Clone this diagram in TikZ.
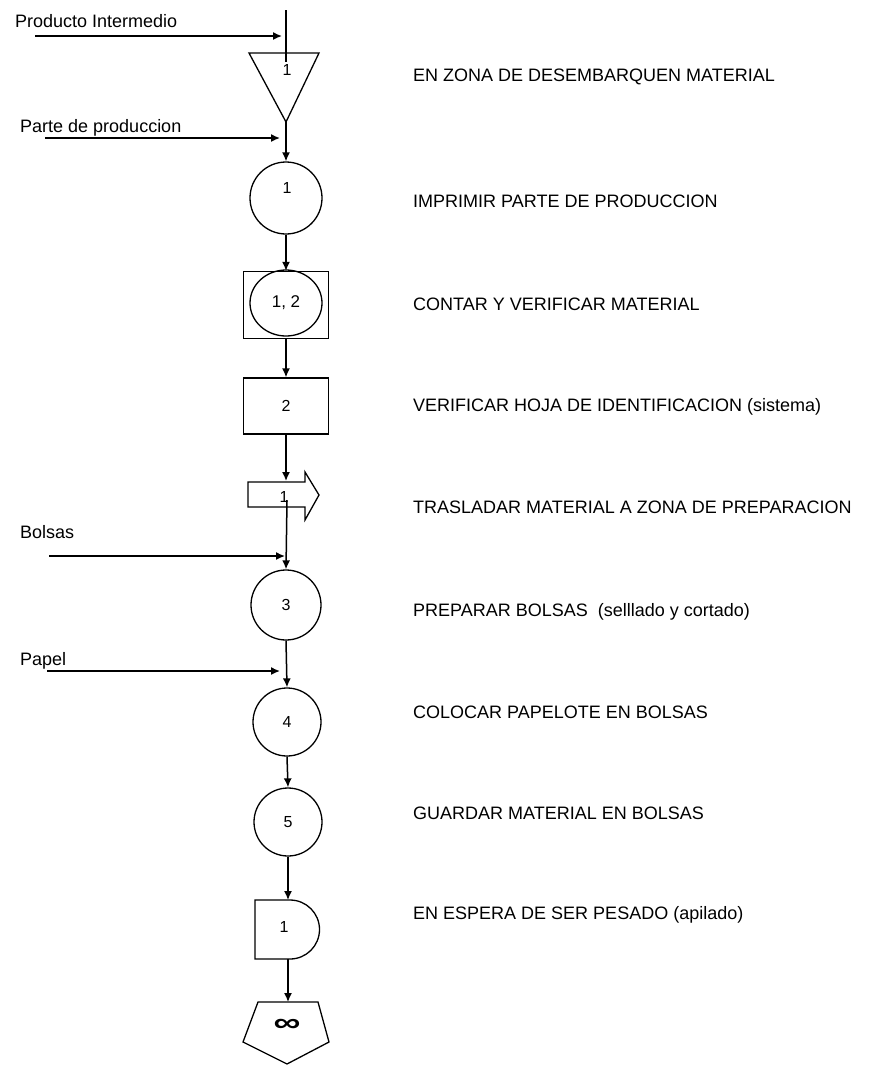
\documentclass[tikz,border=0pt]{standalone}
\usepackage{fontspec}
\setmainfont{Liberation Sans}
\usetikzlibrary{arrows.meta,shapes.geometric}
\begin{document}
\begin{tikzpicture}[x=1pt,y=-1pt,
  conn/.style={line width=1.5pt, -{Latex[length=9pt,width=8pt]}},
  shapeline/.style={line width=1.3pt},
  opcircle/.style={circle, draw, shapeline, minimum size=#1, inner sep=0pt},
  opcircle/.default=72pt,
  opbox/.style={rectangle, draw, shapeline, minimum width=85pt, inner sep=0pt},
  num/.style={font=\fontsize{16}{16}\selectfont, inner sep=0pt},
  desc/.style={anchor=west, inner sep=0pt, text height=13pt, text depth=0pt,
               font=\fontsize{18}{18}\selectfont},
  feedlabel/.style={desc}]
  \fill[white] (0,0) rectangle (881,1066);
  \useasboundingbox (0,0) rectangle (881,1066);

  % --- storage: incoming intermediate product ---
  \coordinate (top) at (286,10);
  \coordinate (tri-in) at (286,62);
  \draw[shapeline] (top) -- (tri-in);
  \node[feedlabel] (lbl-prod) at (15,21) {Producto Intermedio};
  \coordinate (prod-start) at (35,36);
  \coordinate (prod-end) at (282,36);
  \draw[conn] (prod-start) -- (prod-end);

  \coordinate (tl) at (249,53);
  \coordinate (tr) at (319,53);
  \coordinate (tb) at (286,122);
  \draw[shapeline] (tl) -- (tr) -- (tb) -- cycle;
  \node[num] (n-tri) at (287,70) {1};
  \node[desc] (d1) at (413,75) {EN ZONA DE DESEMBARQUEN MATERIAL};

  % --- production report ---
  \node[feedlabel] (lbl-parte) at (20,126) {Parte de produccion};
  \coordinate (parte-start) at (45,138);
  \coordinate (parte-end) at (280,138);
  \draw[conn] (parte-start) -- (parte-end);

  \node[opcircle] (c1) at (286,198) {};
  \node[num] (n-c1) at (287,188) {1};
  \draw[conn] (tb) -- (c1.north);
  \node[desc] (d2) at (413,201) {IMPRIMIR PARTE DE PRODUCCION};

  % --- combined operation / inspection ---
  \node[opbox, minimum height=67pt] (b12) at (286,305) {};
  \node[ellipse, draw, shapeline, minimum width=72pt, minimum height=66pt,
        inner sep=0pt, font=\fontsize{17}{17}\selectfont] (e12) at (286,303) {1,\;2};
  \draw[conn] (c1.south) -- (b12.north);
  \node[desc] (d3) at (413,304) {CONTAR Y VERIFICAR MATERIAL};

  % --- inspection ---
  \node[opbox, minimum height=56pt, num] (b2) at (286,406) {2};
  \draw[conn] (b12.south) -- (b2.north);
  \node[desc] (d4) at (413,405) {VERIFICAR HOJA DE IDENTIFICACION (sistema)};

  % --- transport ---
  \draw[shapeline] (248,482) -- (305,482) -- (305,472) -- (319,495)
                   -- (305,520) -- (305,507) -- (248,507) -- cycle;
  \coordinate (mv-top) at (286,481);
  \coordinate (mv-out) at (287,500);
  \node[num] (n-mv) at (284,497) {1};
  \draw[conn] (b2.south) -- (mv-top);
  \node[desc] (d5) at (413,507) {TRASLADAR MATERIAL A ZONA DE PREPARACION};

  % --- bags ---
  \node[feedlabel] (lbl-bolsas) at (20,532) {Bolsas};
  \coordinate (bolsas-start) at (49,556);
  \coordinate (bolsas-end) at (285,556);
  \draw[conn] (bolsas-start) -- (bolsas-end);

  \node[opcircle=70pt, num] (c3) at (286,605) {3};
  \draw[conn] (mv-out) -- (c3.north);
  \node[desc] (d6) at (413,610) {PREPARAR BOLSAS\ \ (selllado y cortado)};

  % --- paper ---
  \node[feedlabel] (lbl-papel) at (20,659) {Papel};
  \coordinate (papel-start) at (47,671);
  \coordinate (papel-end) at (280,671);
  \draw[conn] (papel-start) -- (papel-end);

  \node[opcircle=68pt, num] (c4) at (287,722) {4};
  \draw[conn] (c3.south) -- (c4.north);
  \node[desc] (d7) at (413,712) {COLOCAR PAPELOTE EN BOLSAS};

  \node[opcircle=68pt, num] (c5) at (288,822) {5};
  \draw[conn] (c4.south) -- (c5.north);
  \node[desc] (d8) at (413,813) {GUARDAR MATERIAL EN BOLSAS};

  % --- delay ---
  \draw[shapeline] (290,900) -- (255,900) -- (255,959) -- (290,959)
                   arc[start angle=90, end angle=-90, radius=29.5] -- cycle;
  \coordinate (d-top) at (288,900);
  \coordinate (d-bot) at (288,959);
  \node[num] (n-d) at (284,927) {1};
  \draw[conn] (c5.south) -- (d-top);
  \node[desc] (d9) at (413,913) {EN ESPERA DE SER PESADO (apilado)};

  % --- final storage ---
  \draw[shapeline] (258,1002) -- (318,1002) -- (329,1042) -- (287,1064)
                   -- (243,1042) -- cycle;
  \coordinate (p-top) at (288,1002);
  \node[inner sep=0pt, font=\fontsize{26}{26}\selectfont\bfseries] (n-p) at (287,1025)
       {\scalebox{1.45}[1]{∞}};
  \draw[conn] (d-bot) -- (p-top);
\end{tikzpicture}
\end{document}
